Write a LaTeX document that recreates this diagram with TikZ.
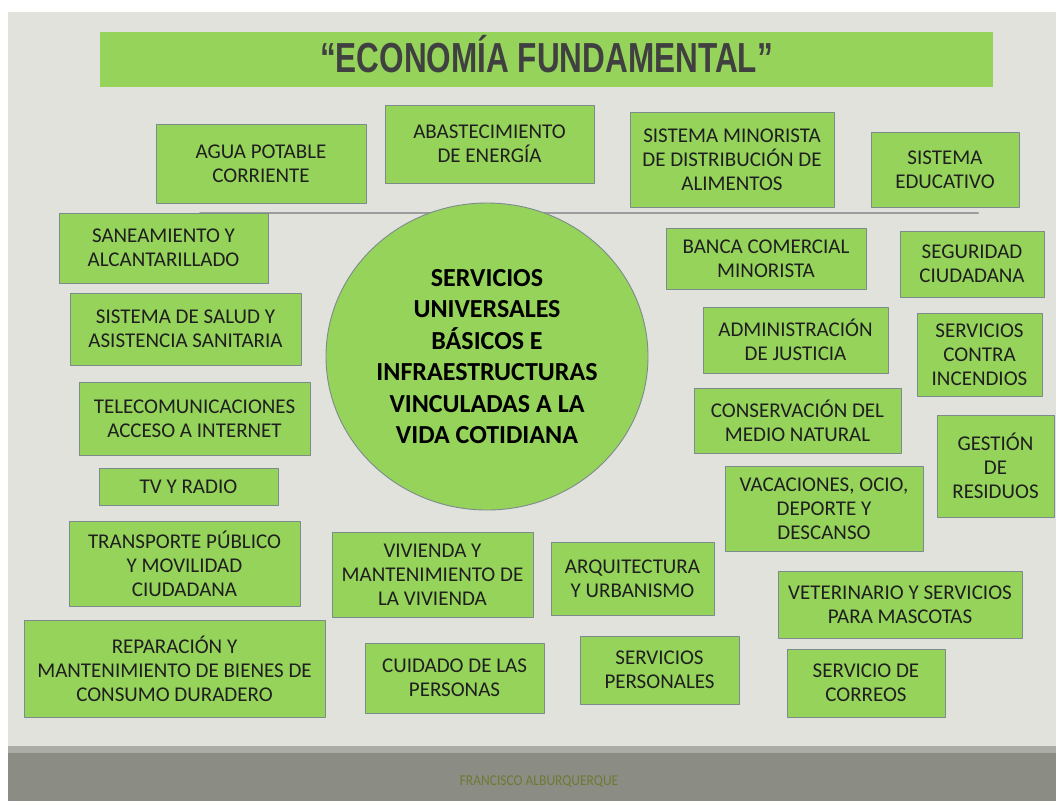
\documentclass[tikz,border=0pt]{standalone}
\usepackage{fontspec}
\setmainfont{Carlito}
\newfontfamily\titlefont{Liberation Sans}
\usetikzlibrary{shapes.geometric}
\definecolor{fondo}{HTML}{E2E2DD}
\definecolor{verde}{HTML}{95D35A}
\definecolor{borde}{HTML}{7C8B8C}
\definecolor{texto}{HTML}{1F1F1F}
\definecolor{titulotexto}{HTML}{404040}
\definecolor{barra}{HTML}{8B8C84}
\definecolor{franja}{HTML}{ABACA6}
\definecolor{firma}{HTML}{6E7A33}
\definecolor{linea}{HTML}{9C9C9C}
\tikzset{caja/.style={draw=borde,fill=verde,line width=0.9pt,align=center,text=texto,inner sep=2pt,font=\fontsize{21}{24}\selectfont}}
\tikzset{circulo/.style={ellipse,draw=borde,fill=verde,line width=0.9pt,align=center,text=black,inner sep=0pt,font=\bfseries\fontsize{26}{31.5}\selectfont}}

\begin{document}
\begin{tikzpicture}[line cap=round,line join=round,x=1pt,y=-1pt]
					\useasboundingbox (0,0) rectangle (1056,801);
					\fill[white] (0,0) rectangle (1056,801);
					\fill[fondo] (8,12) rectangle (1056,748);
					\fill[franja] (8,746) rectangle (1056,754);
					\fill[barra] (8,753) rectangle (1056,801);
					\node[fill=verde,minimum width=893,minimum height=55,inner sep=0pt,text height=30,text depth=5,text=titulotexto] (titulo) at (546.5,59.5) {\titlefont\bfseries\fontsize{42}{42}\selectfont\scalebox{0.75}[1]{“ECONOMÍA FUNDAMENTAL”}};
					\coordinate (lineaizq) at (200,213);
					\coordinate (lineader) at (978,213);
					\draw[linea,line width=2pt] (lineaizq) -- (lineader);
					\node[circulo,minimum width=322,minimum height=307] (centro) at (487,356.5) {SERVICIOS\\UNIVERSALES\\BÁSICOS E\\INFRAESTRUCTURAS\\VINCULADAS A LA\\VIDA COTIDIANA};
					\node[caja,minimum width=210,minimum height=79] (agua) at (261,163.5) {AGUA POTABLE\\CORRIENTE};
					\node[caja,minimum width=209,minimum height=78] (energia) at (489.5,144) {ABASTECIMIENTO\\DE ENERGÍA};
					\node[caja,minimum width=204,minimum height=95] (alimentos) at (732,159.5) {SISTEMA MINORISTA\\DE DISTRIBUCIÓN DE\\ALIMENTOS};
					\node[caja,minimum width=148,minimum height=75] (educativo) at (945,169.5) {SISTEMA\\EDUCATIVO};
					\node[caja,minimum width=209,minimum height=70] (saneamiento) at (163.5,248) {SANEAMIENTO Y\\ALCANTARILLADO};
					\node[caja,minimum width=231,minimum height=72] (salud) at (185.5,329) {SISTEMA DE SALUD Y\\ASISTENCIA SANITARIA};
					\node[caja,minimum width=231,minimum height=73] (telecom) at (194.5,418.5) {TELECOMUNICACIONES\\ACCESO A INTERNET};
					\node[caja,minimum width=179,minimum height=37] (tv) at (188.5,486.5) {TV Y RADIO};
					\node[caja,minimum width=231,minimum height=85] (transporte) at (184.5,563.5) {TRANSPORTE PÚBLICO\\Y MOVILIDAD\\CIUDADANA};
					\node[caja,minimum width=301,minimum height=97] (reparacion) at (174.5,668.5) {REPARACIÓN Y\\MANTENIMIENTO DE BIENES DE\\CONSUMO DURADERO};
					\node[caja,minimum width=201,minimum height=85] (vivienda) at (432.5,574.5) {VIVIENDA Y\\MANTENIMIENTO DE\\LA VIVIENDA};
					\node[caja,minimum width=163,minimum height=73] (arquitectura) at (632.5,578.5) {ARQUITECTURA\\Y URBANISMO};
					\node[caja,minimum width=179,minimum height=70] (cuidado) at (454.5,678) {CUIDADO DE LAS\\PERSONAS};
					\node[caja,minimum width=159,minimum height=68] (personales) at (659.5,670) {SERVICIOS\\PERSONALES};
					\node[caja,minimum width=244,minimum height=67] (veterinario) at (900,604.5) {VETERINARIO Y SERVICIOS\\PARA MASCOTAS};
					\node[caja,minimum width=158,minimum height=68] (correos) at (866,683) {SERVICIO DE\\CORREOS};
					\node[caja,minimum width=200,minimum height=61] (banca) at (766,258.5) {BANCA COMERCIAL\\MINORISTA};
					\node[caja,minimum width=144,minimum height=66] (seguridad) at (972,264) {SEGURIDAD\\CIUDADANA};
					\node[caja,minimum width=185,minimum height=66] (justicia) at (795.5,340) {ADMINISTRACIÓN\\DE JUSTICIA};
					\node[caja,minimum width=125,minimum height=83] (incendios) at (979.5,354.5) {SERVICIOS\\CONTRA\\INCENDIOS};
					\node[caja,minimum width=207,minimum height=65] (medio) at (797.5,420.5) {CONSERVACIÓN DEL\\MEDIO NATURAL};
					\node[caja,minimum width=117,minimum height=102] (residuos) at (995.5,466) {GESTIÓN\\DE\\RESIDUOS};
					\node[caja,minimum width=198,minimum height=85] (vacaciones) at (824,508.5) {VACACIONES, OCIO,\\DEPORTE Y\\DESCANSO};
					\node[text=firma,font=\fontsize{15}{15}\selectfont] (autor) at (539,782) {\scalebox{0.9}[1]{FRANCISCO ALBURQUERQUE}};
\end{tikzpicture}
\end{document}
